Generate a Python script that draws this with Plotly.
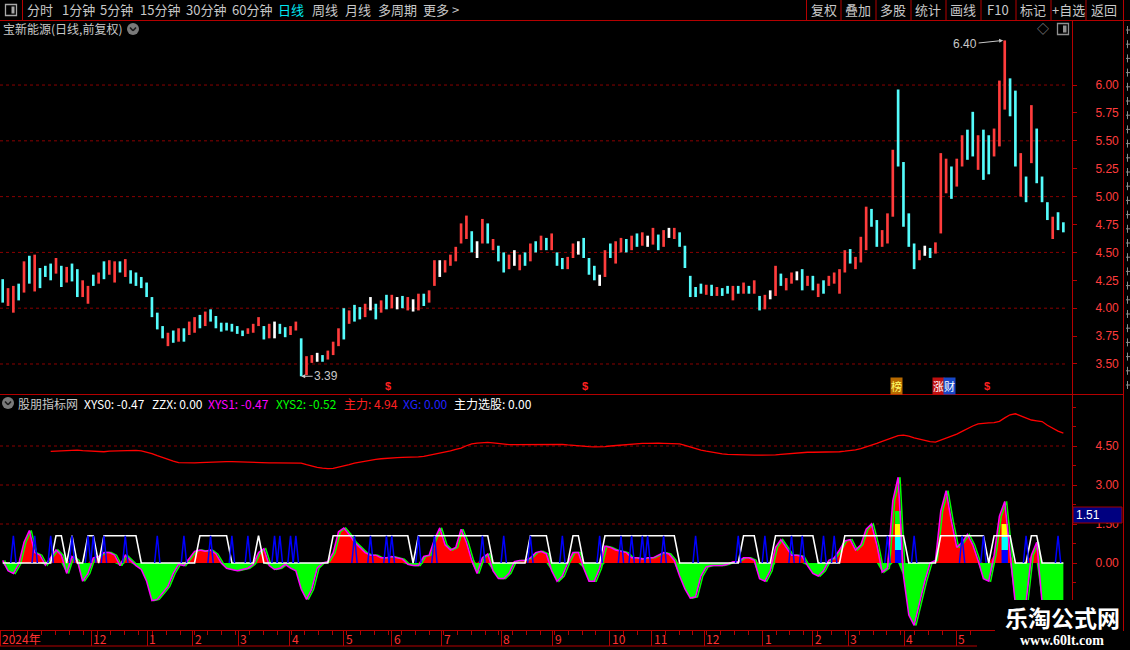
import plotly.graph_objects as go

W, H = 1130, 650


def px(x):
    return x / W


def py(y):
    return 1 - y / H


# ------------------------------------------------------------------ data
bar_low = [
    4.05, 4.02, 3.96, 4.07, 4.14, 4.22, 4.15, 4.18, 4.28, 4.25,
    4.31, 4.19, 4.23, 4.24, 4.10, 4.10, 4.04, 4.20, 4.22, 4.26,
    4.30, 4.23, 4.32, 4.28, 4.22, 4.20, 4.18, 4.10, 3.92, 3.81,
    3.73, 3.66, 3.69, 3.70, 3.70, 3.76, 3.78, 3.82, 3.84, 3.88,
    3.82, 3.79, 3.80, 3.79, 3.77, 3.75, 3.77, 3.78, 3.84, 3.72,
    3.73, 3.73, 3.77, 3.74, 3.76, 3.80, 3.39, 3.40, 3.51, 3.52,
    3.52, 3.54, 3.58, 3.66, 3.72, 3.86, 3.88, 3.90, 3.92, 3.98,
    3.90, 3.96, 3.99, 4.00, 3.99, 4.00, 3.98, 3.97, 3.98, 4.02,
    4.05, 4.20, 4.28, 4.32, 4.38, 4.42, 4.58, 4.62, 4.50, 4.45,
    4.58, 4.58, 4.52, 4.42, 4.32, 4.35, 4.38, 4.34, 4.38, 4.42,
    4.50, 4.52, 4.52, 4.52, 4.38, 4.35, 4.35, 4.45, 4.48, 4.45,
    4.30, 4.25, 4.20, 4.28, 4.45, 4.40, 4.50, 4.50, 4.52, 4.55,
    4.56, 4.55, 4.57, 4.52, 4.55, 4.63, 4.62, 4.55, 4.36, 4.10,
    4.10, 4.13, 4.12, 4.11, 4.11, 4.11, 4.13, 4.07, 4.13, 4.13,
    4.13, 4.13, 3.98, 3.99, 4.08, 4.11, 4.20, 4.16, 4.22, 4.25,
    4.16, 4.20, 4.16, 4.10, 4.13, 4.20, 4.22, 4.13, 4.32, 4.40,
    4.35, 4.41, 4.52, 4.73, 4.55, 4.55, 4.58, 4.82, 5.27, 4.73,
    4.55, 4.35, 4.43, 4.47, 4.45, 4.49, 4.67, 5.03, 4.98, 5.09,
    5.27, 5.33, 5.36, 5.24, 5.15, 5.20, 5.36, 5.45, 5.78, 5.72,
    5.27, 5.00, 4.95, 5.30, 5.12, 4.95, 4.79, 4.62, 4.70, 4.68,
]
bar_high = [
    4.26, 4.18, 4.20, 4.22, 4.42, 4.47, 4.48, 4.36, 4.38, 4.40,
    4.45, 4.38, 4.37, 4.40, 4.35, 4.25, 4.20, 4.30, 4.32, 4.42,
    4.43, 4.42, 4.42, 4.44, 4.34, 4.32, 4.28, 4.23, 4.10, 3.96,
    3.84, 3.78, 3.80, 3.82, 3.82, 3.88, 3.92, 3.94, 3.97, 3.99,
    3.93, 3.87, 3.87, 3.86, 3.84, 3.80, 3.82, 3.86, 3.92, 3.84,
    3.86, 3.88, 3.86, 3.83, 3.84, 3.88, 3.73, 3.57, 3.58, 3.60,
    3.58, 3.62, 3.70, 3.82, 4.00, 3.98, 4.03, 4.01, 4.04, 4.10,
    4.04, 4.07, 4.12, 4.12, 4.10, 4.11, 4.10, 4.08, 4.13, 4.13,
    4.16, 4.43, 4.43, 4.43, 4.48, 4.55, 4.76, 4.83, 4.69, 4.60,
    4.80, 4.76, 4.62, 4.56, 4.50, 4.48, 4.52, 4.48, 4.50, 4.58,
    4.60, 4.65, 4.63, 4.67, 4.50, 4.45, 4.46, 4.58, 4.60, 4.63,
    4.45, 4.38, 4.30, 4.52, 4.58, 4.60, 4.63, 4.62, 4.65, 4.67,
    4.68, 4.65, 4.72, 4.66, 4.70, 4.72, 4.72, 4.68, 4.56, 4.29,
    4.19, 4.22, 4.21, 4.21, 4.19, 4.18, 4.20, 4.20, 4.20, 4.23,
    4.20, 4.25, 4.11, 4.12, 4.16, 4.38, 4.31, 4.27, 4.32, 4.33,
    4.35, 4.29, 4.29, 4.22, 4.25, 4.29, 4.32, 4.35, 4.52, 4.53,
    4.46, 4.64, 4.91, 4.89, 4.79, 4.70, 4.85, 5.42, 5.96, 5.31,
    4.85, 4.58, 4.52, 4.56, 4.54, 4.59, 5.39, 5.34, 5.27, 5.34,
    5.55, 5.60, 5.76, 5.55, 5.60, 5.55, 5.61, 6.04, 6.40, 6.06,
    5.95, 5.39, 5.18, 5.82, 5.61, 5.18, 4.95, 4.82, 4.86, 4.77,
]
# r = up (red), c = down (cyan), w = flat (white)
bar_dir = (
    "crrcrcrccc" "rcrccrrcrc" "rrcrcccccc" "crcrcrrcrc" "ccccccrrrc"
    "rwccrrcrrw" "crrrcrccrw" "crcrwcrwrc" "rrwrrrrrcw" "rcrccrwrcr"
    "crcrccrrwc" "ccwrcrrcrc" "rwrcrwrccc" "ccrcrccrcr" "crcrwrcrrw"
    "crcrcrrrrc" "rrrccrrrcc" "ccrwcrrrcr" "rccrccrrrc" "crcrcccrcc"
)

# indicator XYS (filled histogram, red above 0 / green below)
xys = [
    0.1, -0.3, -0.4, -0.05, 0.8, 1.25, 0.4, 0.3, -0.08, 0.2,
    0.5, 0.3, -0.4, 0.25, 0.1, -0.7, -0.4, 0.2, 0.25, 0.4,
    0.4, 0.3, -0.1, 0.3, 0.1, -0.1, -0.25, -0.7, -1.45, -1.4,
    -1.15, -0.9, -0.4, -0.05, -0.1, 0.2, 0.45, 0.5, 0.45, 0.5,
    0.35, 0.0, -0.2, -0.25, -0.3, -0.25, -0.2, -0.05, 0.4, 0.55,
    -0.1, -0.25, -0.2, -0.05, -0.2, -0.3, -1.0, -1.4, -1.0, -0.2,
    0.0, 0.05, 0.4, 1.2, 1.35, 1.1, 0.8, 0.6, 0.4, 0.3,
    0.3, 0.2, 0.2, 0.25, 0.2, 0.15, -0.05, -0.1, -0.1, 0.25,
    0.3, 0.9, 1.35, 0.7, 0.5, 0.6, 1.3, 0.8, 0.1, -0.4,
    0.2, 0.35, -0.3, -0.6, -0.6, -0.4, 0.05, 0.1, 0.1, 0.2,
    0.4, 0.45, 0.35, -0.3, -0.7, -0.5, 0.0, 0.4, 0.4, -0.2,
    -0.7, -0.7, -0.2, 0.65, 0.6, 0.5, 0.45, 0.4, 0.2, 0.2,
    0.15, 0.2, 0.2, 0.3, 0.4, 0.35, 0.1, -0.5, -1.0, -1.35,
    -1.3, -0.5, -0.15, -0.1, -0.1, -0.1, -0.05, 0.05, 0.05, 0.2,
    0.2, 0.1, -0.6, -0.7, -0.3, 0.6, 0.9, 0.6, 0.3, 0.3,
    0.25, -0.1, -0.4, -0.5, -0.3, 0.1, 0.2, 0.5, 0.85, 0.9,
    0.5, 0.7, 1.3, 1.5, 0.7, -0.35, -0.2, 2.4, 3.3, -0.5,
    -2.0, -2.4, -1.5, -0.7, 0.0, 0.1, 2.0, 2.78, 1.6, 0.6,
    0.8, 1.1, 0.7, 0.1, -0.6, -0.7, 0.3, 1.8, 2.37, 0.3,
    -1.6, -1.8, -1.5, 0.3, 0.8, -1.5, -1.8, -1.9, -1.8, -1.6,
]

# 主力 line
zhuli = [None] * 9 + [
    4.29, 4.30, 4.33, 4.34, 4.35, 4.34, 4.32, 4.31, 4.28, 4.27, 4.28,
    4.30, 4.31, 4.32, 4.33, 4.33, 4.33, 4.31, 4.27, 4.21, 4.13,
    4.05, 3.98, 3.92, 3.86, 3.85, 3.85, 3.85, 3.86, 3.87, 3.89,
    3.90, 3.90, 3.90, 3.90, 3.89, 3.89, 3.88, 3.86, 3.85, 3.85,
    3.85, 3.85, 3.85, 3.85, 3.85, 3.85, 3.84, 3.78, 3.72, 3.68,
    3.65, 3.63, 3.64, 3.68, 3.73, 3.78, 3.84, 3.88, 3.92, 3.96,
    3.99, 4.01, 4.03, 4.04, 4.05, 4.06, 4.06, 4.07, 4.08, 4.10,
    4.14, 4.19, 4.22, 4.26, 4.31, 4.37, 4.42, 4.51, 4.58, 4.61,
    4.63, 4.64, 4.62, 4.59, 4.56, 4.55, 4.55, 4.55, 4.56, 4.56,
    4.57, 4.57, 4.57, 4.57, 4.57, 4.56, 4.54, 4.52, 4.50, 4.49,
    4.48, 4.47, 4.47, 4.48, 4.50, 4.52, 4.54, 4.56, 4.58, 4.59,
    4.60, 4.60, 4.61, 4.61, 4.60, 4.60, 4.60, 4.58, 4.52, 4.45,
    4.38, 4.34, 4.30, 4.26, 4.23, 4.20, 4.18, 4.17, 4.16, 4.16,
    4.15, 4.15, 4.15, 4.15, 4.15, 4.16, 4.18, 4.20, 4.22, 4.24,
    4.25, 4.26, 4.26, 4.26, 4.26, 4.26, 4.27, 4.28, 4.30, 4.32,
    4.35, 4.40, 4.46, 4.53, 4.60, 4.68, 4.76, 4.84, 4.90, 4.92,
    4.88, 4.81, 4.76, 4.71, 4.67, 4.65, 4.72, 4.80, 4.88, 4.96,
    5.06, 5.17, 5.27, 5.35, 5.38, 5.39, 5.40, 5.45, 5.58, 5.70,
    5.74, 5.66, 5.55, 5.50, 5.47, 5.44, 5.30, 5.17, 5.07, 5.00,
]

# ZZX step (1 = high level, 0 = zero)
zzx_flag = [
    0, 0, 0, 0, 0, 0, 0, 0, 0, 0,
    1, 1, 0, 1, 0, 0, 1, 1, 0, 1,
    1, 1, 1, 1, 1, 1, 0, 0, 0, 0,
    0, 0, 0, 0, 0, 0, 0, 1, 1, 1,
    1, 1, 1, 0, 0, 0, 0, 0, 1, 0,
    0, 0, 0, 0, 0, 0, 0, 0, 0, 0,
    0, 0, 1, 1, 1, 1, 1, 1, 1, 1,
    1, 1, 1, 1, 1, 1, 1, 0, 1, 1,
    1, 1, 1, 1, 1, 1, 1, 1, 1, 1,
    1, 1, 0, 0, 0, 0, 0, 0, 0, 1,
    1, 1, 1, 0, 0, 0, 0, 1, 1, 0,
    0, 0, 0, 1, 1, 1, 1, 1, 1, 1,
    1, 1, 1, 1, 1, 1, 1, 0, 0, 0,
    0, 0, 0, 0, 0, 0, 0, 0, 0, 1,
    1, 1, 0, 0, 0, 1, 1, 1, 1, 1,
    1, 1, 1, 0, 0, 0, 0, 0, 1, 1,
    1, 1, 1, 1, 1, 1, 1, 1, 1, 1,
    0, 0, 0, 0, 0, 0, 1, 1, 1, 1,
    1, 1, 1, 1, 1, 0, 1, 1, 1, 1,
    0, 0, 0, 1, 1, 0, 0, 0, 0, 0,
]
ZZX_LEVEL = 1.05

# XG signal spikes (bar indices)
xg_idx = [2, 6, 9, 13, 16, 17, 19, 23, 29, 34, 39, 43, 46, 51, 52, 54, 55,
          66, 69, 72, 73, 78, 81, 90, 94, 99, 105, 112, 116, 118, 120, 121,
          124, 130, 138, 143, 148, 150, 154, 156, 166, 171, 180, 184, 192, 198]
XG_LEVEL = 1.05

# multi-coloured signal columns
col_idx = [168, 188]
col_bounds = [[0, 0.5, 1.0, 1.5, 2.0], [0, 0.5, 1.0, 1.5]]
col_colors = ["#0000ff", "#00ffff", "#ffff00", "#00ff00"]

# date axis
date_tick_idx = [-0.5, 16.6, 27.1, 35.7, 44.2, 53.9, 64.0, 73.0, 82.4, 93.5,
                 103.2, 113.9, 121.8, 131.6, 142.6, 152.0, 158.6, 169.1, 178.9]
date_tick_txt = ["2024年", "12", "1", "2", "3", "4", "5", "6", "7", "8",
                 "9", "10", "11", "12", "1", "2", "3", "4", "5"]

price_ticks = [3.50, 3.75, 4.00, 4.25, 4.50, 4.75, 5.00, 5.25, 5.50, 5.75, 6.00]
price_grid = [3.5, 4.0, 4.5, 5.0, 5.5, 6.0]
ind_ticks = [0.0, 1.5, 3.0, 4.5]
ind_grid = [1.5, 3.0, 4.5]

hi_idx, hi_val = 188, 6.40
lo_idx, lo_val = 56, 3.39
dollar_idx = [72.3, 109.2, 184.7]

# ------------------------------------------------------------------ figure
N = len(bar_low)
idx = list(range(N))
RED_LINE = "#b40000"
colmap = {"r": "#ff3c3c", "c": "#54fcfc", "w": "#ffffff"}

fig = go.Figure()

# price bars (high-low)
fig.add_trace(go.Bar(
    x=idx, y=[h - l for l, h in zip(bar_low, bar_high)], base=bar_low,
    marker=dict(color=[colmap[d] for d in bar_dir], line=dict(width=0)),
    width=0.5, xaxis="x", yaxis="y", hoverinfo="skip"))

# indicator fills
fig.add_trace(go.Scatter(
    x=idx, y=[max(v, 0) for v in xys], yaxis="y2", mode="lines",
    fill="tozeroy", fillcolor="#ff0000", line=dict(width=0, color="#ff0000"),
    hoverinfo="skip"))
fig.add_trace(go.Scatter(
    x=idx, y=[min(v, 0) for v in xys], yaxis="y2", mode="lines",
    fill="tozeroy", fillcolor="#00ff00", line=dict(width=0, color="#00ff00"),
    hoverinfo="skip"))

# coloured columns
for ci, bounds in zip(col_idx, col_bounds):
    for k in range(len(bounds) - 1):
        b0, b1 = bounds[k], bounds[k + 1]
        fig.add_trace(go.Scatter(
            x=[ci - 0.6, ci + 0.6, ci + 0.6, ci - 0.6, ci - 0.6],
            y=[b0, b0, b1, b1, b0], yaxis="y2", mode="lines",
            fill="toself", fillcolor=col_colors[k], line=dict(width=0),
            hoverinfo="skip"))

# XYS2 (green) and XYS1 (magenta) outlines
fig.add_trace(go.Scatter(
    x=[i + 0.35 for i in idx], y=xys, yaxis="y2", mode="lines",
    line=dict(color="#00ff00", width=1.5), hoverinfo="skip"))
fig.add_trace(go.Scatter(
    x=idx, y=xys, yaxis="y2", mode="lines",
    line=dict(color="#ff00ff", width=1.5), hoverinfo="skip"))

# ZZX white step line
fig.add_trace(go.Scatter(
    x=idx, y=[f * ZZX_LEVEL for f in zzx_flag], yaxis="y2", mode="lines",
    line=dict(color="#ffffff", width=1.6), hoverinfo="skip"))

# XG blue spikes
sx, sy = [], []
for i in xg_idx:
    sx += [i - 0.5, i, i + 0.5, None]
    sy += [0, XG_LEVEL, 0, None]
fig.add_trace(go.Scatter(
    x=sx, y=sy, yaxis="y2", mode="lines",
    line=dict(color="#0000ff", width=1.5), hoverinfo="skip"))

# 主力 red line
fig.add_trace(go.Scatter(
    x=idx, y=zhuli, yaxis="y2", mode="lines",
    line=dict(color="#ff0000", width=1.3), hoverinfo="skip"))

tickfont = dict(color="#ff3c3c", size=12, family="Liberation Sans")
fig.update_layout(
    width=W, height=H, margin=dict(l=0, r=0, t=0, b=0), autosize=False,
    paper_bgcolor="black", plot_bgcolor="black", showlegend=False,
    barmode="overlay",
    font=dict(family="Noto Sans CJK SC", color="#c8c8c8", size=12),
    xaxis=dict(
        domain=[0, px(1072)], range=[-0.5066, 200.62], anchor="y2",
        showgrid=False, zeroline=False, showline=False,
        tickmode="array", tickvals=date_tick_idx, ticks="outside",
        ticklen=15, tickwidth=1, tickcolor=RED_LINE, showticklabels=False,
        minor=dict(tickmode="linear", tick0=-0.5, dtick=2.6, ticks="outside",
                   ticklen=4, tickcolor=RED_LINE),
    ),
    yaxis=dict(
        domain=[py(392), py(22)], range=[3.249, 6.565], side="right",
        anchor="x", tickmode="array", tickvals=price_ticks,
        ticktext=[f"{v:.2f}" for v in price_ticks], ticks="outside",
        ticklen=4, tickcolor=RED_LINE, tickfont=tickfont,
        ticklabelstandoff=16, showgrid=False, zeroline=False, showline=False,
    ),
    yaxis2=dict(
        domain=[py(630), py(397)], range=[-2.577, 6.385], side="right",
        anchor="x", tickmode="array", tickvals=ind_ticks,
        ticktext=[f"{v:.2f}" for v in ind_ticks], ticks="outside",
        ticklen=4, tickcolor=RED_LINE, tickfont=tickfont,
        ticklabelstandoff=16, showgrid=False, zeroline=False, showline=False,
        minor=dict(tickmode="linear", tick0=0, dtick=0.75, ticks="outside",
                   ticklen=3, tickcolor=RED_LINE),
    ),
)

shapes = []
# grids
for v in price_grid:
    shapes.append(dict(type="line", xref="paper", yref="y", x0=0, x1=px(1068),
                       y0=v, y1=v, layer="below",
                       line=dict(color="#8a0000", width=1, dash="dot")))
for v in ind_grid:
    shapes.append(dict(type="line", xref="paper", yref="y2", x0=0, x1=px(1068),
                       y0=v, y1=v, layer="below",
                       line=dict(color="#8a0000", width=1, dash="dot")))


def pline(x0, y0, x1, y1, color=RED_LINE, width=1):
    shapes.append(dict(type="line", xref="paper", yref="paper",
                       x0=px(x0), y0=py(y0), x1=px(x1), y1=py(y1),
                       layer="above", line=dict(color=color, width=width)))


def prect(x0, y0, x1, y1, fill, line=None, lw=0):
    shapes.append(dict(type="rect", xref="paper", yref="paper",
                       x0=px(x0), y0=py(y0), x1=px(x1), y1=py(y1),
                       layer="above", fillcolor=fill,
                       line=dict(color=line or fill, width=lw)))


# frame lines
pline(0, 20.5, 1130, 20.5)
pline(22.5, 0, 22.5, 20.5)
for sxp in [806.5, 841, 876, 911, 946, 981, 1016, 1051, 1086]:
    pline(sxp, 0, sxp, 20.5)
pline(1072.5, 20.5, 1072.5, 646)
pline(1123.5, 0, 1123.5, 650)
pline(0, 394.5, 1123.5, 394.5)
pline(0, 630.5, 1072.5, 630.5)
pline(0, 646, 1072.5, 646)

# icons
prect(5.5, 4.5, 16.5, 15.5, "rgba(0,0,0,0)", "#a8a8a8", 1.3)
prect(11.5, 6.5, 14.5, 13.5, "#a8a8a8")
prect(1057.5, 23.5, 1068.5, 34.5, "rgba(0,0,0,0)", "#909090", 1.3)
prect(1063, 25.5, 1066.5, 32.5, "#909090")
for cx, cy in [(133, 29), (8, 403)]:
    shapes.append(dict(type="circle", xref="paper", yref="paper",
                       x0=px(cx - 6), x1=px(cx + 6), y0=py(cy + 6), y1=py(cy - 6),
                       layer="above", fillcolor="#7a7a7a", line=dict(width=0)))
    pline(cx - 3, cy - 1.5, cx, cy + 1.8, "#1a1a1a", 1.6)
    pline(cx, cy + 1.8, cx + 3, cy - 1.5, "#1a1a1a", 1.6)

# side panel fragments (cut-off column at the far right)
for k in range(26):
    yy = 30 + k * 14.2
    pline(1126, yy, 1130, yy, "#8c8c8c", 1)
    pline(1127.5, yy - 4, 1127.5, yy + 4, "#8c8c8c", 1)

# 1.51 value box
prect(1073, 507, 1122, 523, "#000080", "#a00000", 1)

# watermark backgrounds
prect(977, 631, 1130, 650, "black")
prect(995, 600, 1123, 650, "black")

fig.update_layout(shapes=shapes)


def txt(x, y, s, color="#c8c8c8", size=13, anchor="left", family=None,
        bold=False, bg=None):
    f = dict(color=color, size=size)
    if family:
        f["family"] = family
    fig.add_annotation(x=px(x), y=py(y), xref="paper", yref="paper",
                       text=f"<b>{s}</b>" if bold else s, showarrow=False,
                       xanchor=anchor, yanchor="middle", font=f,
                       bgcolor=bg, borderpad=0)


# toolbar
for x, s, c in [(26, "分时", "#c8c8c8"), (61, "1分钟", "#c8c8c8"),
                (99, "5分钟", "#c8c8c8"), (139, "15分钟", "#c8c8c8"),
                (185, "30分钟", "#c8c8c8"), (231, "60分钟", "#c8c8c8"),
                (277, "日线", "#00e8f0"), (311, "周线", "#c8c8c8"),
                (344, "月线", "#c8c8c8"), (377, "多周期", "#c8c8c8"),
                (422, "更多 >", "#c8c8c8")]:
    txt(x, 10, s, c, 13)
for x, s in [(824, "复权"), (858, "叠加"), (893, "多股"), (928, "统计"),
             (963, "画线"), (998, "F10"), (1033, "标记"), (1068, "+自选"),
             (1104, "返回")]:
    txt(x, 10, s, "#c8c8c8", 13, anchor="center")

# titles
txt(2, 29, "宝新能源(日线,前复权)", "#c8c8c8", 12)
txt(1043, 29, "◇", "#909090", 12, anchor="center")

hdr = [(17, "股朋指标网", "#c8c8c8"), (83, "XYS0: -0.47", "#ffffff"),
       (151, "ZZX: 0.00", "#ffffff"), (207, "XYS1: -0.47", "#ff00ff"),
       (275, "XYS2: -0.52", "#00ff00"), (343, "主力: 4.94", "#ff2020"),
       (402, "XG: 0.00", "#2020ff"), (453, "主力选股: 0.00", "#ffffff")]
for x, s, c in hdr:
    txt(x, 403, s, c, 12)

# value box text
txt(1075, 515, "1.51", "#ffffff", 12, family="Liberation Sans")

# date labels
for v, s in zip(date_tick_idx, date_tick_txt):
    fig.add_annotation(x=v, y=py(638.5), xref="x", yref="paper", text=s,
                       showarrow=False, xanchor="left", yanchor="middle",
                       xshift=1, font=dict(color="#ff3030", size=12),
                       borderpad=0)

# high / low markers
fig.add_annotation(x=hi_idx - 0.3, y=hi_val, xref="x", yref="y",
                   text=f"{hi_val:.2f}", showarrow=True, arrowhead=2,
                   arrowsize=0.8, arrowwidth=1, arrowcolor="#c8c8c8",
                   ax=-38, ay=4, font=dict(color="#c8c8c8", size=12,
                                           family="Liberation Sans"))
fig.add_annotation(x=lo_idx, y=lo_val, xref="x", yref="y",
                   text=f"{lo_val:.2f}", showarrow=True, arrowhead=2,
                   arrowsize=0.8, arrowwidth=1, arrowcolor="#c8c8c8",
                   ax=25, ay=0, font=dict(color="#c8c8c8", size=12,
                                          family="Liberation Sans"))

# event markers
for v in dollar_idx:
    fig.add_annotation(x=v, y=py(386), xref="x", yref="paper", text="<b>$</b>",
                       showarrow=False, font=dict(color="#ff2020", size=11,
                                                  family="Liberation Sans"))
fig.add_annotation(x=167.6, y=py(386), xref="x", yref="paper", text="榜",
                   showarrow=False, bgcolor="#b86a00",
                   font=dict(color="#ffff66", size=11), borderpad=0)
fig.add_annotation(x=175.5, y=py(386), xref="x", yref="paper", text="涨",
                   showarrow=False, bgcolor="#c01010",
                   font=dict(color="#ffffff", size=11), borderpad=0)
fig.add_annotation(x=177.7, y=py(386), xref="x", yref="paper", text="财",
                   showarrow=False, bgcolor="#1848c8",
                   font=dict(color="#ffffff", size=11), borderpad=0)

# watermark
txt(1062, 617, "乐淘公式网", "#ffffff", 23, anchor="center", bold=True)
txt(1062, 640, "www.60lt.com", "#ffffff", 14, anchor="center",
    family="Liberation Serif", bold=True)

fig.write_html("out.html",
               config={"displayModeBar": False, "staticPlot": True},
               post_script="document.body.style.margin='0';"
                           "document.body.style.overflow='hidden';")
